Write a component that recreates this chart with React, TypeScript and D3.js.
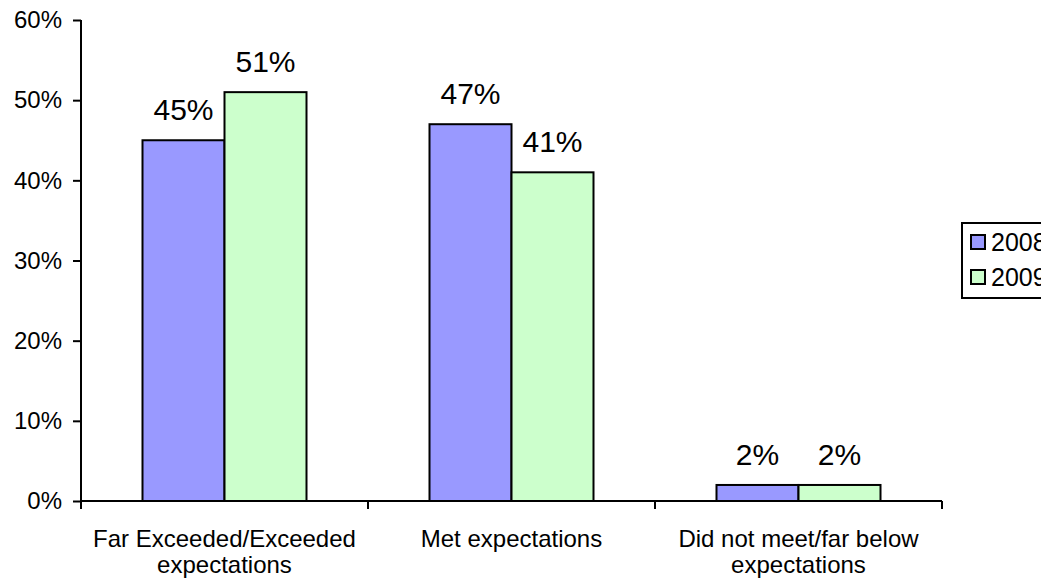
import { useRef, useEffect } from "react";
import * as d3 from "d3";

const categories = ["Far Exceeded/Exceeded|expectations", "Met expectations", "Did not meet/far below|expectations"];
const seriesNames = ["2008", "2009"];
const values2008 = [0.45, 0.47, 0.02];
const values2009 = [0.51, 0.41, 0.02];
const yTicks = [0, 0.1, 0.2, 0.3, 0.4, 0.5, 0.6];
const COLORS = ["#9999ff", "#ccffcc"];
const FONT = "'Liberation Sans', Arial, Helvetica, sans-serif";

export default function App() {
  const ref = useRef<SVGSVGElement>(null);

  useEffect(() => {
    if (!ref.current) return;
    const W = 1041, H = 582;
    const plot = { left: 81, right: 942, top: 20, bottom: 501 };

    const svg = d3.select(ref.current);
    svg.selectAll("*").remove();
    svg.append("rect").attr("width", W).attr("height", H).attr("fill", "#fff");

    const x0 = d3.scaleBand<number>().domain(d3.range(categories.length)).range([plot.left, plot.right]).paddingInner(0).paddingOuter(0);
    const x1 = d3.scaleBand<number>().domain([0, 1]).range([0, x0.bandwidth()]).paddingInner(0).paddingOuter(0.75);
    const y = d3.scaleLinear().domain([0, 0.6]).range([plot.bottom, plot.top]);

    const series = [values2008, values2009];

    // Bars
    categories.forEach((_, ci) => {
      series.forEach((vals, si) => {
        const bx = (x0(ci) ?? 0) + (x1(si) ?? 0);
        svg.append("rect")
          .attr("x", bx).attr("y", y(vals[ci]))
          .attr("width", x1.bandwidth()).attr("height", y(0) - y(vals[ci]))
          .attr("fill", COLORS[si]).attr("stroke", "#000").attr("stroke-width", 2);
        svg.append("text")
          .attr("x", bx + x1.bandwidth() / 2).attr("y", y(vals[ci]) - 20)
          .attr("text-anchor", "middle").attr("font-size", 30).attr("font-family", FONT)
          .attr("fill", "#000").text(`${Math.round(vals[ci] * 100)}%`);
      });
    });

    // Y axis
    const yAxis = svg.append("g").attr("transform", `translate(${plot.left},0)`)
      .call(d3.axisLeft(y).tickValues(yTicks).tickSize(8).tickPadding(11).tickFormat((d) => `${Math.round(+d * 100)}%`));
    yAxis.select(".domain").attr("stroke", "#000").attr("stroke-width", 2).attr("d", `M0,${plot.top}V${plot.bottom}`);
    yAxis.selectAll(".tick line").attr("stroke", "#000").attr("stroke-width", 2);
    yAxis.selectAll("text").attr("font-size", 24).attr("font-family", FONT).attr("fill", "#000");

    // X axis
    const xg = svg.append("g");
    xg.append("line").attr("x1", plot.left).attr("x2", plot.right).attr("y1", plot.bottom).attr("y2", plot.bottom)
      .attr("stroke", "#000").attr("stroke-width", 2);
    d3.range(categories.length + 1).forEach((i) => {
      const tx = plot.left + i * x0.bandwidth();
      xg.append("line").attr("x1", tx).attr("x2", tx).attr("y1", plot.bottom).attr("y2", plot.bottom + 8)
        .attr("stroke", "#000").attr("stroke-width", 2);
    });
    categories.forEach((c, ci) => {
      const cx = (x0(ci) ?? 0) + x0.bandwidth() / 2;
      const t = xg.append("text").attr("text-anchor", "middle").attr("font-size", 24).attr("font-family", FONT).attr("fill", "#000");
      c.split("|").forEach((line, li) => {
        t.append("tspan").attr("x", cx).attr("y", 547 + li * 26).text(line);
      });
    });

    // Legend
    const lg = svg.append("g");
    lg.append("rect").attr("x", 962).attr("y", 223).attr("width", 110).attr("height", 75)
      .attr("fill", "#fff").attr("stroke", "#000").attr("stroke-width", 2);
    seriesNames.forEach((s, i) => {
      const ly = 242 + i * 35;
      lg.append("rect").attr("x", 971).attr("y", ly - 7).attr("width", 14).attr("height", 14)
        .attr("fill", COLORS[i]).attr("stroke", "#000").attr("stroke-width", 2);
      lg.append("text").attr("x", 991).attr("y", ly + 9).attr("font-size", 25).attr("font-family", FONT)
        .attr("fill", "#000").text(s);
    });
  }, []);

  return <svg ref={ref} width={1041} height={582} style={{ position: "absolute", left: 0, top: 0, display: "block" }} />;
}
